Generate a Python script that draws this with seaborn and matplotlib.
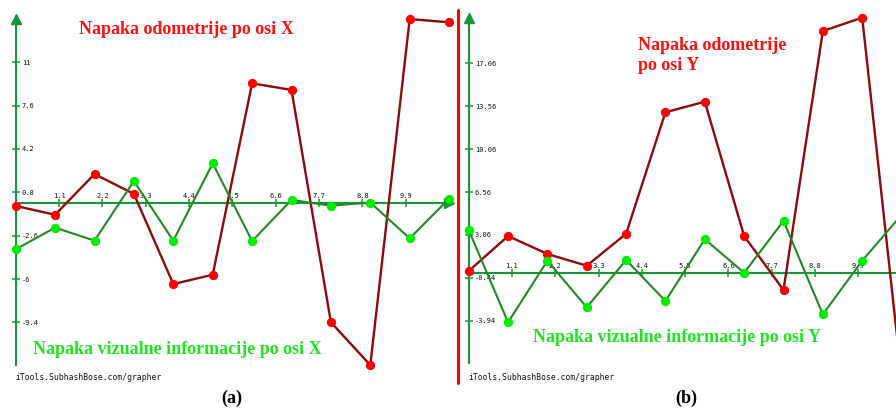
import matplotlib
matplotlib.use("Agg")
import matplotlib.pyplot as plt
from matplotlib.lines import Line2D
import pandas as pd
import seaborn as sns

# ---- data -------------------------------------------------------------
steps = list(range(12))

odom_x = [-0.27, -0.96, 2.23, 0.67, -6.39, -5.66, 9.34, 8.82, -9.39, -12.74, 14.38, 14.12]
visual_x = [-3.67, -1.97, -2.99, 1.68, -2.99, 3.07, -3.02, 0.20, -0.25, 0.00, -2.81, 0.30]

odom_y = [0.12, 2.97, 1.51, 0.55, 3.16, 13.06, 13.92, 2.97, -1.43, 19.68, 20.77, -8.6]
visual_y = [3.46, -4.06, 0.96, -2.84, 1.02, -2.32, 2.71, -0.02, 4.20, -3.41, 0.96, 4.70]

x_ticks = [1.1, 2.2, 3.3, 4.4, 5.5, 6.6, 7.7, 8.8, 9.9]
x_tick_labels = ["1.1", "2.2", "3.3", "4.4", "5.5", "6.6", "7.7", "8.8", "9.9"]

y_ticks_a = [-9.4, -6, -2.6, 0.8, 4.2, 7.6, 11]
y_tick_labels_a = ["-9.4", "-6", "-2.6", "0.8", "4.2", "7.6", "11"]

y_ticks_b = [-3.94, -0.44, 3.06, 6.56, 10.06, 13.56, 17.06]
y_tick_labels_b = ["-3.94", "-0.44", "3.06", "6.56", "10.06", "13.56", "17.06"]

# ---- style ------------------------------------------------------------
sns.set_style("white")
plt.rcParams["font.family"] = ["DejaVu Sans"]

W, H = 896, 408
ODO_LINE = "#8b0a0a"
ODO_MARK = "#ff0000"
VIS_LINE = "#1f8a1f"
VIS_MARK = "#00ee00"
AXIS = "#16963a"
TICK = "#2fae4c"
TITLE_RED = "#ff1010"
TITLE_GREEN = "#1ee61e"
SERIF = "Liberation Serif"
MONO = "DejaVu Sans Mono"

fig = plt.figure(figsize=(W / 100, H / 100), dpi=100)
fig.patch.set_facecolor("white")


def px_axes(x0, y0, x1, y1):
    """Axes placed by pixel box (top-left origin)."""
    return fig.add_axes([x0 / W, 1 - y1 / H, (x1 - x0) / W, (y1 - y0) / H])


def px_text(x, y, s, **kw):
    fig.text(x / W, 1 - y / H, s, **kw)


def draw_panel(ax, odo, vis, yticks, ylabels, xlim, ylim, y_floor):
    df = pd.DataFrame({"step": steps, "odo": odo, "vis": vis})
    sns.lineplot(data=df, x="step", y="odo", ax=ax, sort=False, estimator=None,
                 color=ODO_LINE, linewidth=1.7, marker="o", markersize=5.9,
                 markerfacecolor=ODO_MARK, markeredgecolor=ODO_MARK, zorder=4)
    sns.lineplot(data=df, x="step", y="vis", ax=ax, sort=False, estimator=None,
                 color=VIS_LINE, linewidth=1.5, marker="o", markersize=5.9,
                 markerfacecolor=VIS_MARK, markeredgecolor=VIS_MARK, zorder=5)
    ax.set_xlim(*xlim)
    ax.set_ylim(*ylim)
    ax.set_xlabel("")
    ax.set_ylabel("")
    ax.set_facecolor("none")

    for side in ("top", "right"):
        ax.spines[side].set_visible(False)
    top = max(odo + vis)
    for side in ("left", "bottom"):
        ax.spines[side].set_position(("data", 0))
        ax.spines[side].set_color(AXIS)
        ax.spines[side].set_linewidth(1.5)
        ax.spines[side].set_zorder(3)
    ax.spines["left"].set_bounds(y_floor, top)
    ax.spines["bottom"].set_bounds(0, steps[-1])

    # arrow heads at the axis ends
    ax.plot([0], [top], marker="^", markersize=7, color=AXIS, clip_on=False, zorder=3)
    ax.plot([steps[-1]], [0], marker=">", markersize=7, color=AXIS, zorder=3)

    ax.set_xticks(x_ticks, labels=x_tick_labels)
    ax.set_yticks(yticks, labels=ylabels)
    ax.tick_params(axis="both", which="major", direction="inout", length=5.5,
                   width=1.3, color=TICK, labelsize=5, labelcolor="#111111",
                   bottom=True, left=True)
    ax.tick_params(axis="x", pad=-5.0)
    ax.tick_params(axis="y", pad=-7.2)
    plt.setp(ax.get_xticklabels(), va="bottom", family=MONO)
    plt.setp(ax.get_yticklabels(), ha="left", family=MONO)


# panel (a): odometry / visual error along X
ax_a = px_axes(5, 10, 455, 380)
draw_panel(ax_a, odom_x, visual_x, y_ticks_a, y_tick_labels_a,
           xlim=((5 - 15.7) / 39.4, (455 - 15.7) / 39.4),
           ylim=((202.5 - 380) / 12.76, (202.5 - 10) / 12.76),
           y_floor=min(odom_x + visual_x))

# panel (b): odometry / visual error along Y
ax_b = px_axes(462, 10, 896, 380)
draw_panel(ax_b, odom_y, visual_y, y_ticks_b, y_tick_labels_b,
           xlim=((462 - 468.7) / 39.35, (896 - 468.7) / 39.35),
           ylim=((272.5 - 380) / 12.27, (272.5 - 10) / 12.27),
           y_floor=-7.4)

# separator between the two panels
fig.add_artist(Line2D([458 / W, 458 / W], [1 - 10 / H, 1 - 383 / H],
                      color="#ff0000", linewidth=2.2))

# titles and captions
title_kw = dict(family=SERIF, fontweight="bold", fontsize=13)
px_text(186, 30, "Napaka odometrije po osi X", color=TITLE_RED,
        ha="center", va="center", **title_kw)
px_text(33, 349, "Napaka vizualne informacije po osi X", color=TITLE_GREEN,
        ha="left", va="center", **title_kw)
px_text(638, 46, "Napaka odometrije", color=TITLE_RED,
        ha="left", va="center", **title_kw)
px_text(638, 66, "po osi Y", color=TITLE_RED,
        ha="left", va="center", **title_kw)
px_text(533, 338, "Napaka vizualne informacije po osi Y", color=TITLE_GREEN,
        ha="left", va="center", **title_kw)

mark_kw = dict(family=MONO, fontsize=5.8, color="#111111", va="center", ha="left")
px_text(15, 378, "iTools.SubhashBose.com/grapher", **mark_kw)
px_text(468, 377, "iTools.SubhashBose.com/grapher", **mark_kw)

px_text(232, 398, "(a)", color="black", ha="center", va="center", **title_kw)
px_text(686, 398, "(b)", color="black", ha="center", va="center", **title_kw)

fig.savefig("out.png", dpi=100, facecolor="white")
